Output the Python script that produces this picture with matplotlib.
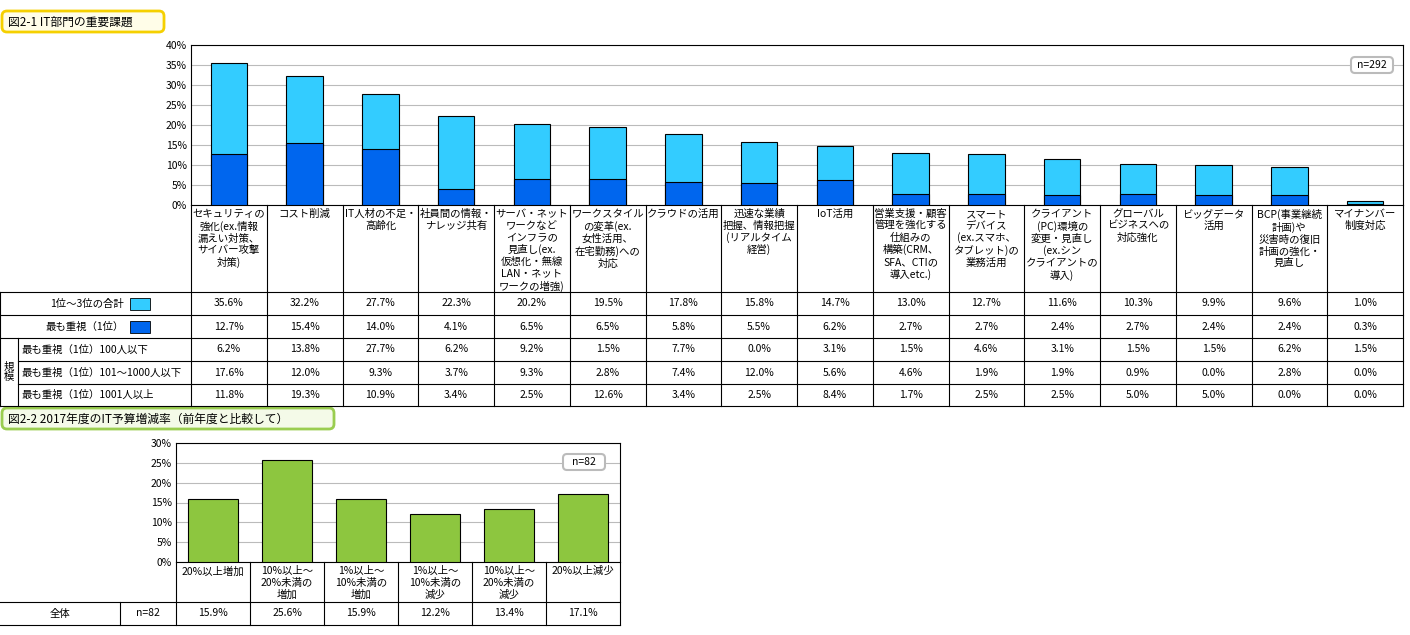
import matplotlib
matplotlib.use("Agg")
import matplotlib.pyplot as plt
from matplotlib.patches import FancyBboxPatch, Rectangle

plt.rcParams['font.family'] = ['Noto Sans CJK JP', 'DejaVu Sans']

W, H = 1410, 635
categories = ["セキュリティの\n強化(ex.情報\n漏えい対策、\nサイバー攻撃\n対策)", "コスト削減", "IT人材の不足・\n高齢化",
              "社員間の情報・\nナレッジ共有", "サーバ・ネット\nワークなど\nインフラの\n見直し(ex.\n仮想化・無線\nLAN・ネット\nワークの増強)",
              "ワークスタイル\nの変革(ex.\n女性活用、\n在宅勤務)への\n対応", "クラウドの活用", "迅速な業績\n把握、情報把握\n(リアルタイム\n経営)",
              "IoT活用", "営業支援・顧客\n管理を強化する\n仕組みの\n構築(CRM、\nSFA、CTIの\n導入etc.)", "スマート\nデバイス\n(ex.スマホ、\nタブレット)の\n業務活用",
              "クライアント\n(PC)環境の\n変更・見直し\n(ex.シン\nクライアントの\n導入)", "グローバル\nビジネスへの\n対応強化", "ビッグデータ\n活用",
              "BCP(事業継続\n計画)や\n災害時の復旧\n計画の強化・\n見直し", "マイナンバー\n制度対応"]
top3 = [35.6, 32.2, 27.7, 22.3, 20.2, 19.5, 17.8, 15.8, 14.7, 13.0, 12.7, 11.6, 10.3, 9.9, 9.6, 1.0]
first = [12.7, 15.4, 14.0, 4.1, 6.5, 6.5, 5.8, 5.5, 6.2, 2.7, 2.7, 2.4, 2.7, 2.4, 2.4, 0.3]
s100 = [6.2, 13.8, 27.7, 6.2, 9.2, 1.5, 7.7, 0.0, 3.1, 1.5, 4.6, 3.1, 1.5, 1.5, 6.2, 1.5]
s1000 = [17.6, 12.0, 9.3, 3.7, 9.3, 2.8, 7.4, 12.0, 5.6, 4.6, 1.9, 1.9, 0.9, 0.0, 2.8, 0.0]
s1001 = [11.8, 19.3, 10.9, 3.4, 2.5, 12.6, 3.4, 2.5, 8.4, 1.7, 2.5, 2.5, 5.0, 5.0, 0.0, 0.0]
row_labels = ["1位～3位の合計", "最も重視（1位）", "最も重視（1位）100人以下", "最も重視（1位）101～1000人以下", "最も重視（1位）1001人以上"]

cat2 = ["20%以上増加", "10%以上～\n20%未満の\n増加", "1%以上～\n10%未満の\n増加", "1%以上～\n10%未満の\n減少", "10%以上～\n20%未満の\n減少", "20%以上減少"]
vals2 = [15.9, 25.6, 15.9, 12.2, 13.4, 17.1]

LIGHT, DARK, GREEN = "#33CCFF", "#0066EE", "#8DC63F"
FS = 7.5

fig = plt.figure(figsize=(W/100, H/100), dpi=100)

def px_axes(l, t, r, b):
    return fig.add_axes([l/W, 1-b/H, (r-l)/W, (b-t)/H])

ov = fig.add_axes([0, 0, 1, 1], zorder=5)
ov.set_xlim(0, W); ov.set_ylim(H, 0); ov.axis('off'); ov.patch.set_alpha(0)

def hl(y, x0, x1): ov.plot([x0, x1], [y, y], color='black', lw=0.8)
def vl(x, y0, y1): ov.plot([x, x], [y0, y1], color='black', lw=0.8)

# ---------- Chart 1 ----------
L1, R1, T1, B1 = 191, 1403, 45, 205
n = len(categories)
cw = (R1 - L1) / n
ax = px_axes(L1, T1, R1, B1)
x = range(n)
ax.bar(x, top3, width=0.48, color=LIGHT, edgecolor='black', lw=0.8, zorder=3)
ax.bar(x, first, width=0.48, color=DARK, edgecolor='black', lw=0.8, zorder=4)
ax.set_xlim(-0.5, n-0.5); ax.set_ylim(0, 40)
ax.set_yticks(range(0, 41, 5)); ax.set_yticklabels([f"{v}%" for v in range(0, 41, 5)], fontsize=FS)
ax.set_xticks([]); ax.tick_params(axis='y', length=0, pad=3)
ax.yaxis.grid(True, color='#bbbbbb', lw=0.8, zorder=0)
for s in ax.spines.values(): s.set_linewidth(0.8)
ov.add_patch(FancyBboxPatch((1352, 58), 40, 14, boxstyle="round,pad=1,rounding_size=4", fc='white', ec='#bbbbbb', lw=1.5))
ov.text(1372, 65, "n=292", ha='center', va='center', fontsize=FS)

# title 1
ov.add_patch(FancyBboxPatch((3, 12), 160, 19, boxstyle="round,pad=1,rounding_size=5", fc='#FFFDE8', ec='#F5D000', lw=2))
ov.text(8, 22, "図2-1 IT部門の重要課題", ha='left', va='center', fontsize=8.5)

# table 1
rows_y = [292, 315, 338, 361, 384, 406]
for i, c in enumerate(categories):
    cx = L1 + cw*(i+0.5)
    ov.text(cx, 209, c, ha='center', va='top', fontsize=FS, linespacing=1.2)
for k in range(n+1):
    vl(L1 + cw*k, B1, rows_y[-1])
vl(0, rows_y[0], rows_y[-1])
for j, y in enumerate(rows_y):
    hl(y, 0 if j <= 2 or j == 5 else 18, R1)
vl(18, rows_y[2], rows_y[-1])
ov.text(9, (rows_y[2]+rows_y[-1])/2, "規\n模", ha='center', va='center', fontsize=FS, linespacing=1.1)
data_rows = [top3, first, s100, s1000, s1001]
for r, row in enumerate(data_rows):
    yc = (rows_y[r] + rows_y[r+1]) / 2
    if r < 2:
        ov.text(124, yc, row_labels[r], ha='right', va='center', fontsize=FS)
        ov.add_patch(Rectangle((130, yc-6), 20, 12, fc=LIGHT if r == 0 else DARK, ec='black', lw=0.6))
    else:
        ov.text(21, yc, row_labels[r], ha='left', va='center', fontsize=FS)
    for i, v in enumerate(row):
        ov.text(L1 + cw*(i+0.5), yc, f"{v:.1f}%", ha='center', va='center', fontsize=FS)

# ---------- Chart 2 ----------
ov.add_patch(FancyBboxPatch((3, 409), 330, 19, boxstyle="round,pad=1,rounding_size=5", fc='#F4FAE8', ec='#9ACD50', lw=2))
ov.text(8, 419, "図2-2 2017年度のIT予算増減率（前年度と比較して）", ha='left', va='center', fontsize=8.5)
L2, R2, T2, B2 = 176, 620, 443, 562
n2 = len(cat2); cw2 = (R2 - L2) / n2
ax2 = px_axes(L2, T2, R2, B2)
ax2.bar(range(n2), vals2, width=0.68, color=GREEN, edgecolor='black', lw=0.8, zorder=3)
ax2.set_xlim(-0.5, n2-0.5); ax2.set_ylim(0, 30)
ax2.set_yticks(range(0, 31, 5)); ax2.set_yticklabels([f"{v}%" for v in range(0, 31, 5)], fontsize=FS)
ax2.set_xticks([]); ax2.tick_params(axis='y', length=0, pad=3)
ax2.yaxis.grid(True, color='#bbbbbb', lw=0.8, zorder=0)
for s in ax2.spines.values(): s.set_linewidth(0.8)
ov.add_patch(FancyBboxPatch((564, 455), 40, 14, boxstyle="round,pad=1,rounding_size=4", fc='white', ec='#bbbbbb', lw=1.5))
ov.text(584, 462, "n=82", ha='center', va='center', fontsize=FS)
for i, c in enumerate(cat2):
    ov.text(L2 + cw2*(i+0.5), 566, c, ha='center', va='top', fontsize=FS, linespacing=1.2)
for k in range(n2+1):
    vl(L2 + cw2*k, B2, 625)
hl(602, 0, R2); hl(625, 0, R2); vl(120, 602, 625)
ov.text(60, 613.5, "全体", ha='center', va='center', fontsize=FS)
ov.text(148, 613.5, "n=82", ha='center', va='center', fontsize=FS)
for i, v in enumerate(vals2):
    ov.text(L2 + cw2*(i+0.5), 613.5, f"{v:.1f}%", ha='center', va='center', fontsize=FS)

fig.savefig("out.png", dpi=100)
